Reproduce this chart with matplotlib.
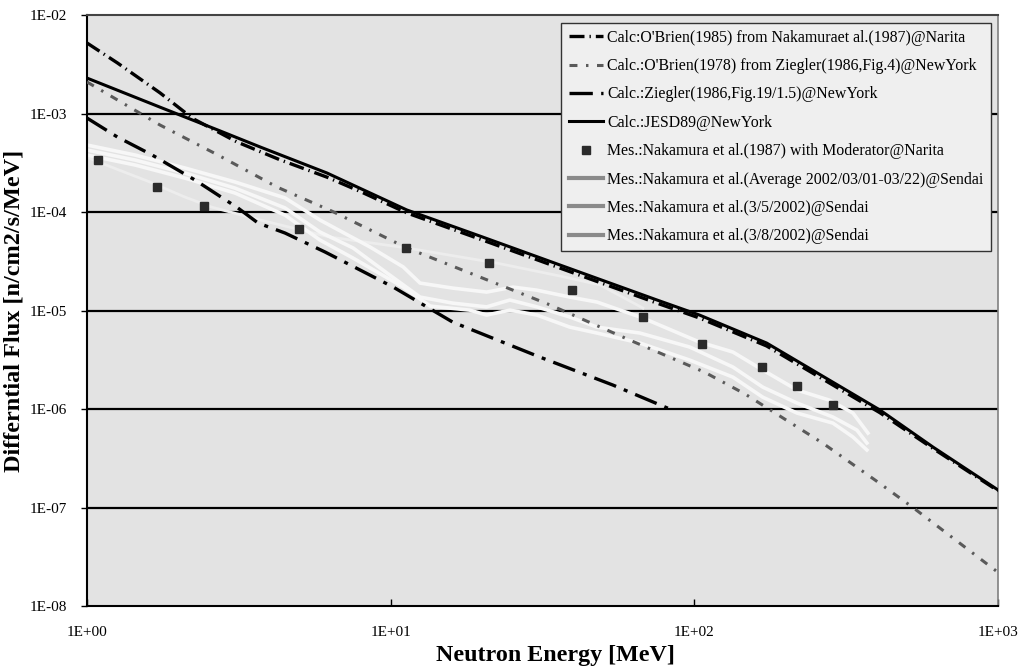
import numpy as np
import matplotlib
matplotlib.use("Agg")
import matplotlib.pyplot as plt
from matplotlib.lines import Line2D
from matplotlib.ticker import FixedLocator, FuncFormatter, NullLocator

# --- data ---
E_narita = [1.0, 1.26, 1.74, 2.23, 3.12, 4.32, 6.17, 7.93, 11.3, 20.1, 36.1, 75.3, 104, 173, 408, 611, 1000]
F_narita = [5.2e-3, 3.26e-3, 1.62e-3, 8.9e-4, 5.14e-4, 3.39e-4, 2.26e-4, 1.62e-4, 9.8e-5, 5.19e-5,
            2.70e-5, 1.19e-5, 8.4e-6, 4.37e-6, 9.2e-7, 3.98e-7, 1.48e-7]

E_obrien78 = [1.0, 1.74, 2.70, 4.23, 6.41, 11.3, 33.5, 61.4, 108, 147, 196, 265, 394, 525, 1000]
F_obrien78 = [2.09e-3, 7.64e-4, 3.79e-4, 1.79e-4, 1.02e-4, 4.32e-5, 1.14e-5, 5.0e-6, 2.37e-6,
              1.42e-6, 8.1e-7, 4.5e-7, 1.9e-7, 1.0e-7, 2.2e-8]

E_ziegler = [1.0, 1.26, 1.64, 2.27, 3.14, 3.66, 4.49, 6.08, 7.93, 10.2, 16.0, 31.0, 54.0, 81.8]
F_ziegler = [9.0e-4, 5.77e-4, 3.79e-4, 2.11e-4, 1.10e-4, 7.73e-5, 6.12e-5, 3.93e-5, 2.58e-5,
             1.73e-5, 7.64e-6, 3.37e-6, 1.75e-6, 1.02e-6]

E_jesd = [1.0, 1.74, 2.70, 3.72, 6.17, 11.3, 20.1, 36.1, 75.3, 104, 173, 408, 611, 1000]
F_jesd = [2.29e-3, 1.16e-3, 6.79e-4, 4.57e-4, 2.49e-4, 1.05e-4, 5.57e-5, 2.90e-5, 1.28e-5,
          9.0e-6, 4.68e-6, 9.8e-7, 4.11e-7, 1.51e-7]

E_nak87 = [1.09, 1.70, 2.43, 4.99, 11.2, 21.1, 39.5, 67.7, 106, 167, 218, 286]
F_nak87 = [3.37e-4, 1.79e-4, 1.15e-4, 6.71e-5, 4.32e-5, 3.03e-5, 1.61e-5, 8.6e-6, 4.57e-6,
           2.67e-6, 1.71e-6, 1.10e-6]

E_sendai_a = [1.0, 1.44, 2.10, 3.07, 4.49, 5.85, 8.55, 11.0, 12.5, 16.0, 20.7, 25.3, 30.3, 38.9,
              47.8, 67.7, 104, 134, 168, 218, 279, 333, 373]
F_sendai_a = [4.79e-4, 3.79e-4, 2.80e-4, 2.02e-4, 1.39e-4, 8.3e-5, 4.42e-5, 2.77e-5, 1.90e-5,
              1.69e-5, 1.54e-5, 1.73e-5, 1.61e-5, 1.37e-5, 1.22e-5, 8.4e-6, 4.79e-6, 3.79e-6,
              2.49e-6, 1.56e-6, 1.23e-6, 9.1e-7, 5.7e-7]

E_sendai_b = [1.0, 1.44, 2.10, 3.07, 4.49, 5.85, 7.52, 9.73, 12.5, 16.0, 20.7, 24.7, 30.3, 38.9,
              47.8, 66.2, 96.6, 134, 168, 218, 286, 343, 370]
F_sendai_b = [4.26e-4, 3.37e-4, 2.49e-4, 1.75e-4, 1.10e-4, 6.27e-5, 4.32e-5, 2.40e-5, 1.37e-5,
              1.19e-5, 1.09e-5, 1.28e-5, 1.09e-5, 8.6e-6, 6.79e-6, 5.91e-6, 4.26e-6, 2.67e-6,
              1.67e-6, 1.15e-6, 8.3e-7, 6.12e-7, 4.52e-7]

E_sendai_c = [1.0, 1.44, 2.10, 3.07, 4.49, 5.85, 7.52, 11.0, 13.5, 18.2, 20.7, 24.7, 30.3, 38.9,
              47.8, 66.2, 96.6, 134, 168, 218, 286, 333, 370]
F_sendai_c = [3.79e-4, 3.0e-4, 2.21e-4, 1.56e-4, 9.3e-5, 5.2e-5, 3.41e-5, 1.73e-5, 1.11e-5,
              1.01e-5, 9.0e-6, 1.01e-5, 9.0e-6, 6.79e-6, 5.91e-6, 4.68e-6, 3.14e-6, 2.11e-6,
              1.32e-6, 9.1e-7, 7.2e-7, 5.2e-7, 3.84e-7]

E_faint = [1.0, 1.09, 1.61, 2.10, 2.58, 3.72, 6.31, 11.3, 22.4, 36.1, 48.9, 67.7]
F_faint = [3.61e-4, 3.22e-4, 2.02e-4, 1.42e-4, 1.12e-4, 8.3e-5, 5.57e-5, 4.32e-5, 3.03e-5,
           2.24e-5, 1.82e-5, 1.06e-5]

labels = [
    "Calc:O'Brien(1985) from Nakamuraet al.(1987)@Narita",
    "Calc.:O'Brien(1978) from Ziegler(1986,Fig.4)@NewYork",
    "Calc.:Ziegler(1986,Fig.19/1.5)@NewYork",
    "Calc.:JESD89@NewYork",
    "Mes.:Nakamura et al.(1987) with Moderator@Narita",
    "Mes.:Nakamura et al.(Average 2002/03/01-03/22)@Sendai",
    "Mes.:Nakamura et al.(3/5/2002)@Sendai",
    "Mes.:Nakamura et al.(3/8/2002)@Sendai",
]
x_ticks = [1, 10, 100, 1000]
y_ticks = [1e-8, 1e-7, 1e-6, 1e-5, 1e-4, 1e-3, 1e-2]

plt.rcParams['font.family'] = ['Liberation Serif', 'DejaVu Serif']

fig = plt.figure(figsize=(10.23, 6.69), dpi=100)
ax = fig.add_axes([0.085, 0.094, 0.8906, 0.8836])
ax.set_facecolor('#e3e3e3')
ax.set_xscale('log')
ax.set_yscale('log')
ax.set_xlim(1, 1000)
ax.set_ylim(1e-8, 1e-2)

for yv in y_ticks[1:-1]:
    ax.axhline(yv, color='black', lw=1.6, zorder=1)

# measured Sendai curves (drawn almost white)
ax.plot(E_faint, F_faint, color='#ededed', lw=2.0, zorder=2)
ax.plot(E_sendai_a, F_sendai_a, color='#f7f7f7', lw=2.6, zorder=2)
ax.plot(E_sendai_b, F_sendai_b, color='#f7f7f7', lw=2.6, zorder=2)
ax.plot(E_sendai_c, F_sendai_c, color='#f7f7f7', lw=2.6, zorder=2)

l1, = ax.plot(E_narita, F_narita, color='black', lw=2.4, ls=(0, (4.5, 1.5, 0.4, 1.5)), zorder=3)
l2, = ax.plot(E_obrien78, F_obrien78, color='#5a5a5a', lw=2.2, ls=(0, (2.6, 2.8, 0.8, 2.8)), zorder=3)
l3, = ax.plot(E_ziegler, F_ziegler, color='black', lw=2.4, ls=(0, (7, 2.5, 1.2, 2.5)), zorder=3)
l4, = ax.plot(E_jesd, F_jesd, color='black', lw=2.2, zorder=4)
l5, = ax.plot(E_nak87, F_nak87, ls='none', marker='s', ms=5.2, color='#2b2b2b', zorder=5)

proxies = [Line2D([], [], color='#8a8a8a', lw=3) for _ in range(3)]
leg = ax.legend([l1, l2, l3, l4, l5] + proxies, labels, loc='upper right',
                bbox_to_anchor=(0.992, 0.987), borderaxespad=0, fontsize=11.4,
                frameon=True, fancybox=False, facecolor='#efefef', edgecolor='#333333',
                framealpha=1, labelspacing=0.78, handlelength=2.2, handletextpad=0.25,
                borderpad=0.45)
leg.get_frame().set_linewidth(1.0)

ax.xaxis.set_major_locator(FixedLocator(x_ticks))
ax.yaxis.set_major_locator(FixedLocator(y_ticks))
ax.xaxis.set_minor_locator(NullLocator())
ax.yaxis.set_minor_locator(NullLocator())
fmt = FuncFormatter(lambda v, p: "1E%+03d" % int(round(np.log10(v))))
ax.xaxis.set_major_formatter(fmt)
ax.yaxis.set_major_formatter(fmt)
ax.tick_params(axis='x', direction='in', length=5, width=1, pad=14, labelsize=11)
ax.tick_params(axis='y', direction='out', length=4, width=1, pad=10, labelsize=11)

for s in ['left', 'bottom']:
    ax.spines[s].set_color('black')
    ax.spines[s].set_linewidth(1.5)
ax.spines['top'].set_color('#444444')
ax.spines['top'].set_linewidth(1.5)
ax.spines['right'].set_color('#808080')
ax.spines['right'].set_linewidth(1.2)

ax.set_xlabel('Neutron Energy [MeV]', fontsize=17.3, fontweight='bold')
ax.set_ylabel('Differntial Flux [n/cm2/s/MeV]', fontsize=17.5, fontweight='bold')
ax.xaxis.set_label_coords(0.514, -0.066)
ax.yaxis.set_label_coords(-0.069, 0.5)

fig.savefig('out.png', dpi=100, facecolor='white')
